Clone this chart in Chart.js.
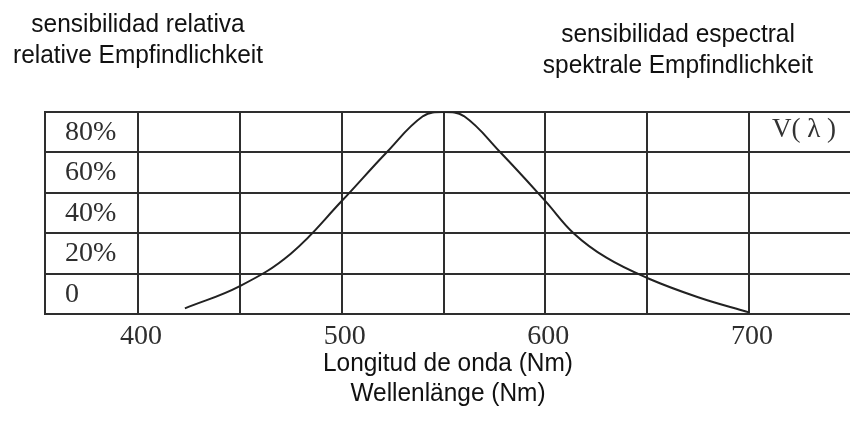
<!DOCTYPE html>
<html>
<head>
<meta charset="utf-8">
<script src="https://cdn.jsdelivr.net/npm/chart.js@4.4.1/dist/chart.umd.min.js"></script>
<style>
  html, body { margin: 0; padding: 0; background: #ffffff; }
  #wrap { position: relative; width: 850px; height: 423px; overflow: hidden; background: #fff; }
  #c { position: absolute; left: 0; top: 0; }
  .ttl { position: absolute; font-family: "Liberation Sans", Arial, sans-serif; font-size: 26px; line-height: 31px;
         color: #111; text-align: center; white-space: nowrap; transform: scaleX(0.94); transform-origin: center top; }
</style>
</head>
<body>
<div id="wrap">
  <canvas id="c" width="850" height="423"></canvas>
  <div class="ttl" id="tl" style="left:0; width:276px; top:8px;">sensibilidad relativa<br>relative Empfindlichkeit</div>
  <div class="ttl" id="tr" style="left:528px; width:300px; top:18px;">sensibilidad espectral<br>spektrale Empfindlichkeit</div>
  <div class="ttl" id="xt" style="left:298px; width:300px; top:347px; line-height:30px;">Longitud de onda (Nm)<br>Wellenlänge (Nm)</div>
</div>
<script>
// Data
const wavelengths = [423, 450, 475, 500, 522, 540, 550, 560, 578, 600, 614, 630, 650, 675, 700];
const sensitivity = [3, 14, 30, 56, 80, 98, 100, 98, 80, 56, 40, 28, 18, 8.5, 1];

// Axis ticks
const xTickValues = [400, 450, 500, 550, 600, 650, 700];
const xTickLabels = ['400', '', '500', '', '600', '', '700'];
const yTickValues = [0, 20, 40, 60, 80, 100];
const yTickLabels = ['0', '20%', '40%', '60%', '80%', ''];
const seriesLabel = 'V( λ )';

const ink = '#2e2e2e';
const tickFont = { family: '"Liberation Serif", "Times New Roman", serif', size: 28 };

const seriesLabelPlugin = {
  id: 'seriesLabel',
  afterDatasetsDraw(chart) {
    const { ctx, scales: { x, y } } = chart;
    ctx.save();
    ctx.font = '27px "Liberation Serif", "Times New Roman", serif';
    ctx.fillStyle = '#333';
    ctx.textAlign = 'center';
    ctx.textBaseline = 'middle';
    ctx.fillText(seriesLabel, x.getPixelForValue(727), y.getPixelForValue(91));
    ctx.restore();
  }
};

new Chart(document.getElementById('c'), {
  type: 'line',
  data: {
    datasets: [{
      label: seriesLabel,
      data: wavelengths.map((w, i) => ({ x: w, y: sensitivity[i] })),
      borderColor: '#222',
      borderWidth: 2,
      pointRadius: 0,
      fill: false,
      tension: 0.4
    }]
  },
  options: {
    responsive: false,
    animation: false,
    devicePixelRatio: 1,
    layout: { padding: { top: 112, left: 5, right: 0, bottom: 65 } },
    plugins: { legend: { display: false }, tooltip: { enabled: false }, title: { display: false } },
    scales: {
      x: {
        type: 'linear',
        min: 354.3,
        max: 749.6,
        afterBuildTicks: (scale) => { scale.ticks = xTickValues.map(v => ({ value: v })); },
        ticks: {
          autoSkip: false,
          maxRotation: 0,
          padding: 5,
          labelOffset: 3,
          color: ink,
          font: tickFont,
          callback: (value) => xTickLabels[xTickValues.indexOf(value)] ?? ''
        },
        grid: { color: ink, lineWidth: 2, drawTicks: false },
        border: { display: true, color: ink, width: 2 }
      },
      y: {
        min: 0,
        max: 100,
        afterBuildTicks: (scale) => { scale.ticks = yTickValues.map(v => ({ value: v })); },
        ticks: {
          mirror: true,
          padding: 20,
          labelOffset: -20,
          color: ink,
          font: tickFont,
          callback: (value) => yTickLabels[yTickValues.indexOf(value)] ?? ''
        },
        grid: { color: ink, lineWidth: 2, drawTicks: false },
        border: { display: true, color: ink, width: 2 }
      }
    }
  },
  plugins: [seriesLabelPlugin]
});
</script>
</body>
</html>
